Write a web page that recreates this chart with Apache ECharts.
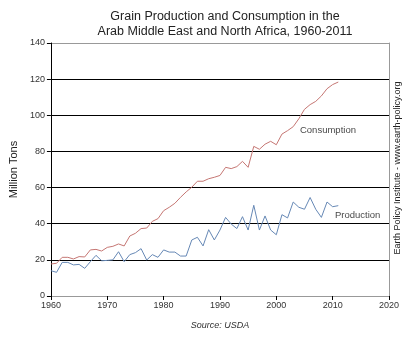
<!DOCTYPE html>
<html>
<head>
<meta charset="utf-8">
<script src="https://cdn.jsdelivr.net/npm/echarts@6/dist/echarts.min.js"></script>
<style>html,body{margin:0;padding:0;background:#fff;}#c{width:409px;height:342px;}</style>
</head>
<body>
<div id="c"></div>
<script>
var years = [];
for (var y = 1960; y <= 2011; y++) years.push(y);
var consumption = [17.7,18.1,21.4,21.4,20.5,21.8,21.6,25.5,25.8,24.9,
  26.9,27.5,28.8,27.7,33.2,34.7,37.3,37.6,41.3,42.8,
  47.2,49.1,51.3,54.6,57.6,60.2,63.5,63.5,64.9,65.7,
  66.7,71.2,70.5,71.6,74.5,71.2,82.8,81.2,84.0,85.6,
  83.7,89.6,91.5,93.7,98.1,103.3,105.9,107.7,110.7,114.7,
  117.0,118.4];
var production = [14.0,13.1,18.6,18.6,17.2,17.5,15.3,19.0,22.5,19.5,
  19.7,20.0,24.5,19.0,22.9,24.0,26.2,19.9,22.9,21.4,
  25.5,24.3,24.3,22.1,22.1,31.0,32.5,27.7,36.7,31.0,
  36.5,43.5,39.8,37.3,43.9,36.5,50.2,36.5,44.3,36.5,
  33.9,45.0,43.2,52.0,49.1,48.0,54.5,48.0,43.5,52.0,
  49.4,50.0];
var xTicks = [1960,1970,1980,1990,2000,2010,2020];
var yTicks = [0,20,40,60,80,100,120,140];

function pairs(v){ return years.map(function(yr,i){ return [yr, v[i]]; }); }

var chart = echarts.init(document.getElementById('c'));
var font = '"Liberation Sans", Arial, sans-serif';
chart.setOption({
  animation: false,
  textStyle: {fontFamily: font},
  title: {
    text: 'Grain Production and Consumption in the\nArab Middle East and North Africa, 1960-2011',
    left: 220, top: 4, textAlign: 'center',
    textStyle: {fontSize: 12.5, fontWeight: 'normal', color: '#222', lineHeight: 15, fontFamily: font}
  },
  grid: {left: 50, right: 20, top: 43, bottom: 46, show: false},
  xAxis: [{
    type: 'value', min: xTicks[0], max: xTicks[xTicks.length-1], interval: 10,
    axisLine: {lineStyle: {color: '#000', width: 1}},
    axisTick: {show: true, length: 4, lineStyle: {color: '#000'}},
    axisLabel: {fontSize: 9, color: '#333', margin: 5, fontFamily: font,
      formatter: function(v){ return String(v); }},
    splitLine: {show: false},
    name: 'Source: USDA', nameLocation: 'middle', nameGap: 25,
    nameTextStyle: {fontSize: 9, fontStyle: 'italic', color: '#333', fontFamily: font}
  }, {
    type: 'value', position: 'top', min: xTicks[0], max: xTicks[xTicks.length-1],
    axisLine: {show: true, lineStyle: {color: '#999'}},
    axisTick: {show: false}, axisLabel: {show: false}, splitLine: {show: false}
  }],
  yAxis: [{
    type: 'value', min: yTicks[0], max: yTicks[yTicks.length-1], interval: 20,
    axisLine: {show: true, lineStyle: {color: '#000'}},
    axisTick: {show: true, length: 4, lineStyle: {color: '#000'}},
    axisLabel: {fontSize: 9, color: '#333', margin: 6, fontFamily: font},
    splitLine: {show: true, lineStyle: {color: ['#000','#000','#000','#000','#000','#000','#000','#999'], width: 1}},
    name: 'Million Tons', nameLocation: 'middle', nameGap: 30, nameRotate: 90,
    nameTextStyle: {fontSize: 11, color: '#222', fontFamily: font}
  }, {
    type: 'value', position: 'right', min: yTicks[0], max: yTicks[yTicks.length-1],
    axisLine: {show: true, lineStyle: {color: '#999'}},
    axisTick: {show: false}, axisLabel: {show: false}, splitLine: {show: false}
  }],
  graphic: [{
    type: 'text', rotation: Math.PI/2, x: 398, y: 168,
    style: {text: 'Earth Policy Institute - www.earth-policy.org', fill: '#222',
      font: '9px "Liberation Sans", Arial, sans-serif', textAlign: 'center', textVerticalAlign: 'middle'}
  }],
  series: [{
    type: 'line', name: 'Consumption', data: pairs(consumption), symbol: 'none',
    lineStyle: {color: '#c57673', width: 1}, z: 3
  }, {
    type: 'line', name: 'Production', data: pairs(production), symbol: 'none',
    lineStyle: {color: '#6688b5', width: 1}, z: 3
  }, {
    type: 'scatter', symbolSize: 0, silent: true,
    data: [{value: [2004.2, 91.9], label: {show: true, formatter: 'Consumption', position: 'right', distance: 0,
      fontSize: 9.5, color: '#111', fontFamily: font}},
      {value: [2010.4, 44.8], label: {show: true, formatter: 'Production', position: 'right', distance: 0,
      fontSize: 9.5, color: '#111', fontFamily: font}}]
  }]
});
</script>
</body>
</html>
